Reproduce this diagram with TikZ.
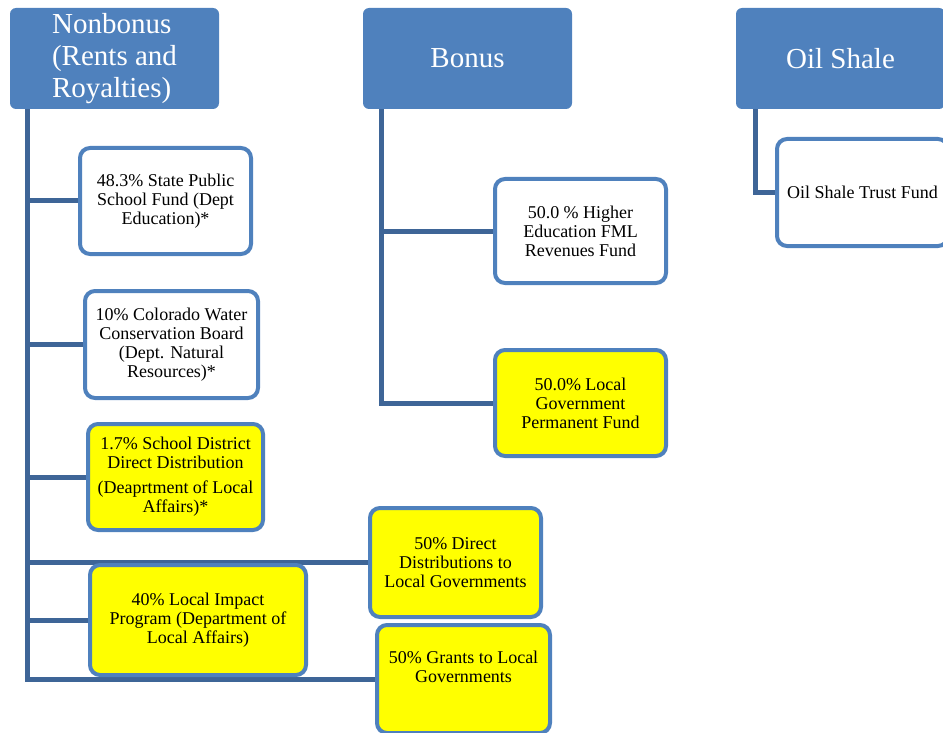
\documentclass[tikz,border=0pt]{standalone}
\usepackage{fontspec}
\setmainfont{Liberation Serif}
\pgfdeclarelayer{bg}
\pgfsetlayers{bg,main}
\definecolor{hblue}{HTML}{4F81BD}
\definecolor{cblue}{HTML}{3E6597}
\definecolor{ybox}{HTML}{FFFF00}
\tikzset{
  hdr/.style={fill=hblue, rounded corners=6pt, minimum width=209pt, minimum height=101pt,
    text=white, font=\fontsize{29}{32}\selectfont, inner sep=0pt},
  kid/.style={draw=hblue, line width=4pt, rounded corners=10pt, fill=white,
    font=\fontsize{18}{19}\selectfont, align=center, inner sep=0pt, text=black},
  ykid/.style={kid, fill=ybox},
  conn/.style={draw=cblue, line width=5pt}
}
\begin{document}
\begin{tikzpicture}[x=1pt,y=-1pt]
\useasboundingbox (0,0) rectangle (943,733);
\clip (0,0) rectangle (943,733);
% headers
\node[hdr, align=left] (nb) at (114.5,58.5) {Nonbonus\\(Rents and\\Royalties)};
\node[hdr, align=center] (bo) at (467.5,58.5) {Bonus};
\node[hdr, align=center] (os) at (840.5,58.5) {Oil Shale};
% nonbonus children
\node[kid, minimum width=171pt, minimum height=106pt] (c1) at (165.5,201) {48.3\% State Public\\School Fund (Dept\\Education)*};
\node[kid, minimum width=173pt, minimum height=107pt] (c2) at (171.5,344.5) {10\% Colorado Water\\Conservation Board\\(Dept. Natural\\Resources)*};
\node[ykid, minimum width=175pt, minimum height=106pt] (c3) at (175.5,477) {1.7\% School District\\Direct Distribution\\[6pt](Deaprtment of Local\\Affairs)*};
\node[ykid, minimum width=216pt, minimum height=110pt] (c4) at (198,620) {40\% Local Impact\\Program (Department of\\Local Affairs)};
\node[ykid, minimum width=171pt, minimum height=109pt] (d1) at (455.5,562.5) {50\% Direct\\Distributions to\\Local Governments};
\node[ykid, minimum width=173pt, minimum height=108pt] (g1) at (463.5,679) {50\% Grants to Local\\Governments\\[6pt]};
% bonus children
\node[kid, minimum width=171pt, minimum height=104pt] (b1) at (580.5,231) {50.0 \% Higher\\Education FML\\Revenues Fund};
\node[ykid, minimum width=171pt, minimum height=106pt] (b2) at (580.5,403) {50.0\% Local\\Government\\Permanent Fund};
% oil shale child
\node[kid, minimum width=171pt, minimum height=107pt] (o1) at (862.5,192.5) {Oil Shale Trust Fund};
% connectors
\coordinate (nbt) at (27,109);
\coordinate (bot) at (381,109);
\coordinate (ost) at (755,109);
\begin{pgfonlayer}{bg}
\draw[conn] (nbt) |- (g1.west);
\draw[conn] (nbt |- c1.west) -- (c1.west);
\draw[conn] (nbt |- c2.west) -- (c2.west);
\draw[conn] (nbt |- c3.west) -- (c3.west);
\draw[conn] (nbt |- c4.west) -- (c4.west);
\draw[conn] (nbt |- d1.west) -- (d1.west);
\draw[conn] (bot) |- (b2.west);
\draw[conn] (bot |- b1.west) -- (b1.west);
\draw[conn] (ost) |- (o1.west);
\end{pgfonlayer}
\end{tikzpicture}
\end{document}
